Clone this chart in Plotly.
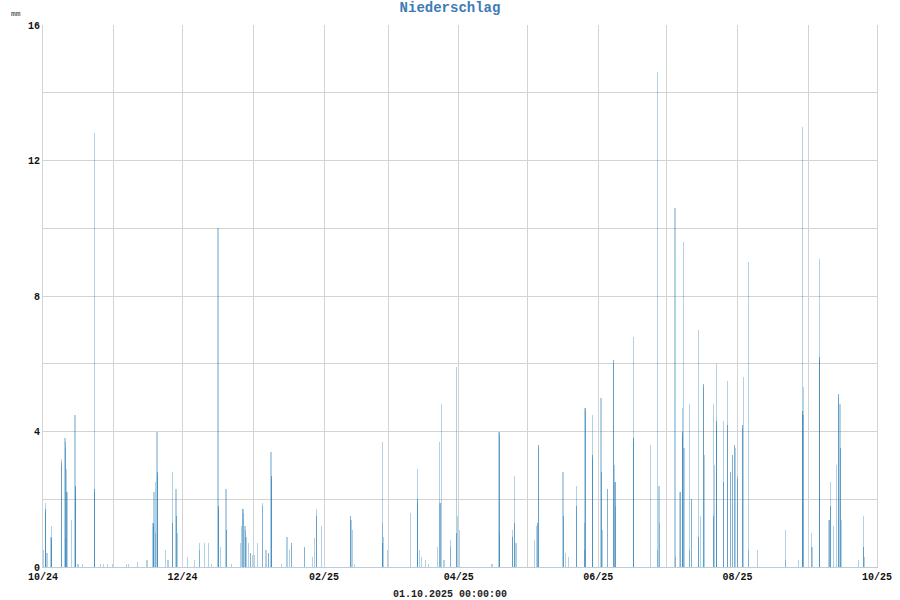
import pandas as pd
import plotly.graph_objects as go

# Rain events: start time and consecutive hourly amounts (mm)
event_start = [
    "2024-10-01 10:00", "2024-10-02 04:00", "2024-10-02 18:00", "2024-10-04 12:00", "2024-10-04 22:00",
    "2024-10-09 04:00", "2024-10-10 15:00", "2024-10-11 10:00", "2024-10-13 13:00", "2024-10-15 00:00",
    "2024-10-16 08:00", "2024-10-18 08:00", "2024-10-23 11:00", "2024-10-26 08:00", "2024-10-27 16:00",
    "2024-10-29 08:00", "2024-10-31 12:00", "2024-11-06 12:00", "2024-11-07 12:00", "2024-11-11 12:00",
    "2024-11-15 12:00", "2024-11-18 03:00", "2024-11-18 14:00", "2024-11-19 07:00", "2024-11-19 21:00",
    "2024-11-23 17:00", "2024-11-24 17:00", "2024-11-26 19:00", "2024-11-28 05:00", "2024-11-28 21:00",
    "2024-12-03 08:00", "2024-12-06 12:00", "2024-12-08 14:00", "2024-12-10 16:00", "2024-12-12 15:00",
    "2024-12-13 15:00", "2024-12-16 14:00", "2024-12-17 12:00", "2024-12-20 02:00", "2024-12-22 12:00",
    "2024-12-26 12:00", "2024-12-27 00:00", "2024-12-27 12:00", "2024-12-28 10:00", "2024-12-28 20:00",
    "2024-12-29 20:00", "2024-12-30 22:00", "2024-12-31 14:00", "2025-01-01 12:00", "2025-01-02 19:00",
    "2025-01-05 05:00", "2025-01-06 14:00", "2025-01-07 19:00", "2025-01-08 19:00", "2025-01-13 12:00",
    "2025-01-15 19:00", "2025-01-16 19:00", "2025-01-17 19:00", "2025-01-23 12:00", "2025-01-27 00:00",
    "2025-01-27 19:00", "2025-01-28 12:00", "2025-01-30 17:00", "2025-02-12 17:00", "2025-02-13 12:00",
    "2025-02-14 12:00", "2025-02-26 12:00", "2025-02-27 05:00", "2025-02-28 17:00", "2025-03-10 22:00",
    "2025-03-13 17:00", "2025-03-14 14:00", "2025-03-15 17:00", "2025-03-17 12:00", "2025-03-18 14:00",
    "2025-03-22 17:00", "2025-03-23 17:00", "2025-03-24 14:00", "2025-03-25 12:00", "2025-03-28 07:00",
    "2025-03-31 01:00", "2025-03-31 12:00", "2025-04-01 05:00", "2025-04-15 12:00", "2025-04-18 14:00",
    "2025-04-24 10:00", "2025-04-25 07:00", "2025-04-26 00:00", "2025-05-04 07:00", "2025-05-04 22:00",
    "2025-05-05 07:00", "2025-05-05 19:00", "2025-05-16 14:00", "2025-05-17 17:00", "2025-05-18 19:00",
    "2025-05-22 14:00", "2025-05-25 19:00", "2025-05-26 05:00", "2025-05-29 07:00", "2025-06-02 05:00",
    "2025-06-02 19:00", "2025-06-05 02:00", "2025-06-07 14:00", "2025-06-08 07:00", "2025-06-16 07:00",
    "2025-06-23 22:00", "2025-06-27 00:00", "2025-06-27 14:00", "2025-07-04 14:00", "2025-07-06 19:00",
    "2025-07-07 19:00", "2025-07-08 12:00", "2025-07-10 19:00", "2025-07-11 22:00", "2025-07-14 19:00",
    "2025-07-15 19:00", "2025-07-17 00:00", "2025-07-17 10:00", "2025-07-21 07:00", "2025-07-21 19:00",
    "2025-07-22 14:00", "2025-07-25 17:00", "2025-07-27 12:00", "2025-07-28 17:00", "2025-07-29 17:00",
    "2025-07-30 19:00", "2025-08-01 00:00", "2025-08-03 00:00", "2025-08-03 17:00", "2025-08-05 19:00",
    "2025-08-09 19:00", "2025-08-22 00:00", "2025-08-27 14:00", "2025-08-29 12:00", "2025-08-30 00:00",
    "2025-09-02 12:00", "2025-09-05 17:00", "2025-09-10 00:00", "2025-09-10 17:00", "2025-09-12 02:00",
    "2025-09-13 05:00", "2025-09-14 02:00", "2025-09-14 19:00", "2025-09-15 12:00", "2025-09-22 19:00",
    "2025-09-25 00:00", "2025-09-25 17:00",
]
event_hourly_mm = [
    [0.5], [1.9, 1.7, 1.7, 1.6], [0.4], [0.9, 0.85, 0.8], [1.2],
    [3.2, 3.1, 3.0], [3.8, 3.7, 3.5, 0.85], [2.9, 2.2, 2.2], [1.4], [4.5, 2.4, 2.4, 2.3],
    [0.1], [0.1], [12.8, 2.3, 2.3, 2.2], [0.1], [0.1],
    [0.1], [0.1], [0.1], [0.1], [0.15],
    [0.2], [1.3, 1.3, 1.2], [2.2], [2.5, 1.0], [4.0, 2.8, 2.8, 2.7],
    [0.5], [0.2], [2.8, 1.3, 1.3], [2.3, 1.5, 1.5], [1.0],
    [0.3], [0.2], [0.7, 0.5], [0.7], [0.7],
    [0.1], [10.0, 1.8, 1.8, 1.7], [0.6], [2.3, 1.1, 1.1], [0.1],
    [0.7], [1.2], [1.7, 1.7, 1.6], [1.2, 1.1], [0.9],
    [0.7], [0.4, 0.4], [0.35], [0.35], [0.7],
    [1.9, 1.8], [0.5], [0.4, 0.4], [3.4, 2.7, 2.7, 2.6], [0.1],
    [0.9], [0.5], [0.7, 0.7], [0.6, 0.6], [0.3],
    [0.85], [1.7, 1.5, 1.5], [1.2], [1.5, 1.5, 1.4], [1.1],
    [0.1], [3.7, 1.3, 0.7, 0.7], [0.9], [0.5], [1.6],
    [2.9, 2.0, 2.0, 1.9], [0.5], [0.3], [0.2], [0.1],
    [0.6], [3.7, 1.9, 1.9], [4.8], [0.2], [0.8, 0.6],
    [5.9, 1.0, 1.0], [1.5], [1.1], [0.1], [4.0, 4.0, 3.9, 1.0],
    [1.1, 0.9, 0.9], [2.7, 1.3, 1.3], [0.7], [0.8], [1.2],
    [1.3, 1.3], [3.6, 3.6, 3.5], [2.8, 1.5, 1.5], [0.4], [0.3],
    [2.4, 1.8, 1.8], [1.3, 0.5], [4.7, 4.7, 4.6], [4.5, 3.3, 3.3, 3.2], [5.0, 2.8, 2.8],
    [1.1], [2.3, 2.3], [6.1, 6.1, 6.0], [3.0, 2.5, 2.5, 1.8], [6.8, 3.8, 3.8, 3.7],
    [3.6], [14.6, 0.5], [2.4, 1.3], [10.6, 0.3], [2.2, 2.2],
    [4.7, 4.0, 4.0, 3.9], [9.6, 3.5], [4.8, 0.5], [2.0, 2.0], [7.0, 0.9, 0.9],
    [1.5], [5.4, 5.4, 5.3], [3.3], [4.8, 1.5, 1.5], [3.0],
    [6.0, 4.3, 4.3, 4.2], [4.3, 2.5, 2.5], [5.5, 4.2, 4.2], [2.8, 2.8], [3.3, 3.3],
    [3.6, 3.6, 3.5], [2.7, 2.6], [4.2, 4.2, 4.1], [5.6], [9.0, 0.5],
    [0.5], [1.1, 0.2], [0.2], [13.0, 4.6, 4.6, 4.5], [5.3],
    [1.0, 0.6], [9.1, 6.2, 6.2, 6.1], [1.4, 1.4], [2.5, 1.8, 1.8], [1.2],
    [3.0], [5.1, 5.1, 5.0], [4.8, 3.5, 3.5], [1.4], [0.2],
    [1.5, 0.6, 0.6], [0.3],
]

month_ticks = pd.date_range("2024-10-01", "2025-10-01", freq="MS")
month_labels = ["10/24", "", "12/24", "", "02/25", "", "04/25", "", "06/25", "", "08/25", "", "10/25"]
y_ticks = [0, 2, 4, 6, 8, 10, 12, 14, 16]
y_labels = ["0", "", "4", "", "8", "", "12", "", "16"]

times, values = [], []
for start, vals in zip(event_start, event_hourly_mm):
    t0 = pd.Timestamp(start)
    for k, v in enumerate(vals):
        times.append(t0 + pd.Timedelta(hours=k))
        values.append(v)

font = "Liberation Mono, Courier New, monospace"

fig = go.Figure(go.Bar(
    x=times, y=values, width=3600000,
    marker=dict(color="rgb(31,119,180)", opacity=0.34, line=dict(width=0)),
    hoverinfo="x+y",
))

fig.update_layout(
    width=900, height=600,
    margin=dict(l=43, r=23, t=25, b=33, autoexpand=False),
    paper_bgcolor="white", plot_bgcolor="white",
    showlegend=False, bargap=0,
    title=dict(text="<b>Niederschlag</b>", x=0.5, xref="container", xanchor="center",
               y=1 - 7 / 600, yref="container", yanchor="middle",
               font=dict(family=font, size=14, color="#3c7bb6")),
    xaxis=dict(type="date", range=["2024-10-01", "2025-10-01"],
               tickvals=month_ticks, ticktext=[f"<b>{t}</b>" for t in month_labels],
               showgrid=True, gridcolor="#d3d3d3", gridwidth=1, automargin=False,
               showline=True, linecolor="#b8cde0", linewidth=1, mirror=False,
               ticks="", tickfont=dict(family=font, size=10, color="#111"), zeroline=False),
    yaxis=dict(range=[0, 16], tickvals=y_ticks, ticktext=[f"<b>{t}</b>" for t in y_labels],
               showgrid=True, gridcolor="#d3d3d3", gridwidth=1, automargin=False,
               showline=True, linecolor="#d3d3d3", linewidth=1, mirror=True,
               ticks="", tickfont=dict(family=font, size=10, color="#111"), zeroline=False),
    annotations=[
        dict(text="mm", xref="paper", yref="paper", x=(16 - 43) / 834, y=(567 - 14) / 542,
             showarrow=False, xanchor="center", yanchor="middle",
             font=dict(family=font, size=8, color="#333")),
        dict(text="<b>01.10.2025 00:00:00</b>", xref="paper", yref="paper",
             x=(450 - 43) / 834, y=(567 - 594) / 542, showarrow=False,
             xanchor="center", yanchor="middle",
             font=dict(family=font, size=10, color="#222")),
    ],
)

fig.write_html("out.html", config={"displayModeBar": False},
               post_script="document.body.style.margin='0';")
